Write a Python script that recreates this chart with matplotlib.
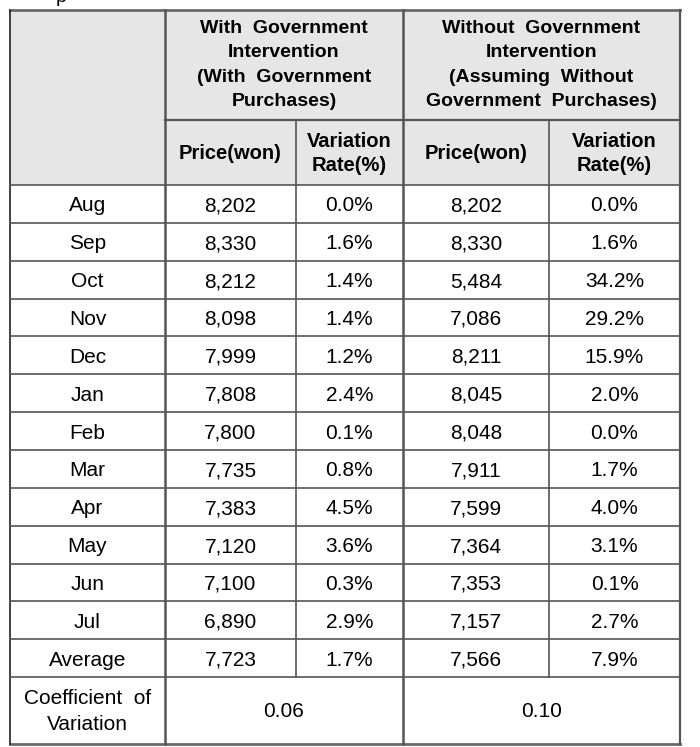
import matplotlib.pyplot as plt
from matplotlib.patches import Rectangle

# table data
months = ['Aug', 'Sep', 'Oct', 'Nov', 'Dec', 'Jan', 'Feb', 'Mar', 'Apr', 'May', 'Jun', 'Jul', 'Average']
with_price = [8202, 8330, 8212, 8098, 7999, 7808, 7800, 7735, 7383, 7120, 7100, 6890, 7723]
with_rate = [0.0, 1.6, 1.4, 1.4, 1.2, 2.4, 0.1, 0.8, 4.5, 3.6, 0.3, 2.9, 1.7]
without_price = [8202, 8330, 5484, 7086, 8211, 8045, 8048, 7911, 7599, 7364, 7353, 7157, 7566]
without_rate = [0.0, 1.6, 34.2, 29.2, 15.9, 2.0, 0.0, 1.7, 4.0, 3.1, 0.1, 2.7, 7.9]
cv_label = 'Coefficient  of\nVariation'
cv = [0.06, 0.10]
group_heads = ['With  Government\nIntervention\n(With  Government\nPurchases)',
               'Without  Government\nIntervention\n(Assuming  Without\nGovernment  Purchases)']
sub_heads = ['Price(won)', 'Variation\nRate(%)']

# layout in pixels
col_x = [10, 165, 296, 403, 549, 680]
y_top, y_group, y_sub = 10, 120, 185
row_h = 37.85
cv_h = 67

plt.rcParams['font.family'] = ['Liberation Sans', 'DejaVu Sans']
fig = plt.figure(figsize=(7, 7.47), dpi=100)
ax = fig.add_axes([0, 0, 1, 1])
ax.set_xlim(0, 700)
ax.set_ylim(747, 0)
ax.axis('off')

head_bg = '#e6e6e6'
line_c = '#555555'
ax.add_patch(Rectangle((col_x[0], y_top), col_x[-1] - col_x[0], y_sub - y_top,
                       facecolor=head_bg, edgecolor='none'))

body_top = y_sub
n = len(months)
y_rows = [body_top + i * row_h for i in range(n + 1)]
y_bot = y_rows[-1] + cv_h

def cx(i, j=None):
    j = i if j is None else j
    return (col_x[i] + col_x[j + 1]) / 2

# header text
fs_h = 14
for g, head in enumerate(group_heads):
    ax.text(cx(1 + 2 * g, 2 + 2 * g), (y_top + y_group) / 2, head, ha='center', va='center',
            fontsize=fs_h, fontweight='bold', linespacing=1.55)
    for k, s in enumerate(sub_heads):
        ax.text(cx(1 + 2 * g + k), (y_group + y_sub) / 2 + 1, s, ha='center', va='center',
                fontsize=fs_h + 0.5, fontweight='bold', linespacing=1.3)

# body text
fs = 15
for i, m in enumerate(months):
    yc = (y_rows[i] + y_rows[i + 1]) / 2 + 2
    vals = [m, f'{with_price[i]:,}', f'{with_rate[i]:.1f}%',
            f'{without_price[i]:,}', f'{without_rate[i]:.1f}%']
    for j, v in enumerate(vals):
        ax.text(cx(j), yc, v, ha='center', va='center', fontsize=fs)

yc = (y_rows[-1] + y_bot) / 2 + 1
ax.text(cx(0), yc, cv_label, ha='center', va='center', fontsize=fs, linespacing=1.5)
for g, v in enumerate(cv):
    ax.text(cx(1 + 2 * g, 2 + 2 * g), yc, f'{v:.2f}', ha='center', va='center', fontsize=fs)

# grid lines
lw = 1.2
ax.plot([col_x[0], col_x[-1]], [y_top, y_top], color='#6a6a6a', lw=2)
ax.plot([col_x[0], col_x[-1]], [y_bot, y_bot], color='#6a6a6a', lw=2)
ax.plot([col_x[0], col_x[0]], [y_top, y_bot], color='#222222', lw=1.2)
ax.plot([col_x[-1], col_x[-1]], [y_top, y_bot], color=line_c, lw=1.6)
ax.plot([col_x[1], col_x[-1]], [y_group, y_group], color=line_c, lw=1.6)
for y in y_rows:
    ax.plot([col_x[0], col_x[-1]], [y, y], color=line_c, lw=lw)
for j in [1, 3]:
    ax.plot([col_x[j], col_x[j]], [y_top, y_bot], color=line_c, lw=1.8)
for j in [2, 4]:
    ax.plot([col_x[j], col_x[j]], [y_group, y_rows[-1]], color=line_c, lw=lw)

# clipped caption fragment above the table
ax.text(61, 1.5, 'p', ha='center', va='baseline', fontsize=14)

fig.savefig('out.png', dpi=100)
